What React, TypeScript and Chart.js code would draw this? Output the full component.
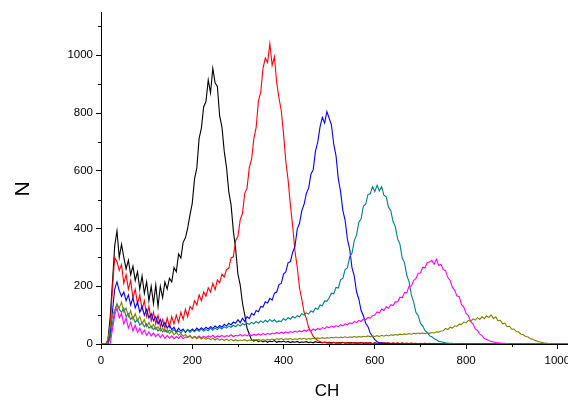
import React, { useEffect, useRef } from "react";
import { Chart, registerables } from "chart.js";

Chart.register(...registerables);

// Channel positions (x categories), every 5 channels from 0 to 1040
const CHANNELS: number[] = Array.from({ length: 209 }, (_, i) => i * 5);

const X_TICK_LABELS = [0, 200, 400, 600, 800, 1000];
const Y_TICK_LABELS = [0, 200, 400, 600, 800, 1000];
const X_TITLE = "CH";
const Y_TITLE = "N";

const BLACK: number[] = [
  0, 0, 0, 12, 90, 210, 340, 392, 300, 345,
  300, 260, 290, 240, 270, 220, 250, 190, 235, 175,
  215, 150, 200, 140, 205, 130, 200, 160, 215, 190,
  228, 215, 265, 250, 312, 298, 352, 368, 402, 447,
  488, 572, 610, 712, 748, 822, 840, 915, 870, 955,
  905, 892, 790, 752, 668, 612, 528, 482, 392, 330,
  242, 205, 142, 100, 55, 34, 14, 10, 14, 8,
  12, 7, 11, 6, 10, 8, 12, 6, 9, 7,
  10, 6, 9, 5, 8, 6, 9, 5, 7, 6,
  8, 5, 7, 4, 8, 5, 6, 4, 7, 5,
  6, 4, 6, 3, 5, 4, 6, 3, 5, 4,
  5, 3, 4, 3, 5, 2, 4, 3, 4, 2,
  4, 2, 3, 2, 4, 2, 3, 1, 3, 2,
  3, 1, 2, 1, 2, 1, 2, 1, 1, 1,
  1, 0, 1, 0, 1, 0, 0, 1, 0, 0,
  0, 0, 0, 0, 0, 0, 0, 0, 0, 0,
  0, 0, 0, 0, 0, 0, 0, 0, 0, 0,
  0, 0, 0, 0, 0, 0, 0, 0, 0, 0,
  0, 0, 0, 0, 0, 0, 0, 0, 0, 0,
  0, 0, 0, 0, 0, 0, 0, 0, 0, 0,
  0, 0, 0, 0, 0, 0, 0, 0, 0,
];

const RED: number[] = [
  0, 0, 0, 0, 55, 190, 300, 285, 255, 275,
  210, 240, 190, 220, 160, 190, 140, 170, 120, 150,
  95, 130, 80, 110, 70, 100, 60, 85, 55, 90,
  60, 95, 70, 100, 75, 110, 85, 120, 95, 130,
  120, 150, 135, 170, 150, 180, 165, 195, 180, 210,
  188, 222, 212, 242, 232, 258, 262, 298, 302, 358,
  372, 430, 452, 522, 540, 612, 640, 712, 750, 842,
  872, 955, 990, 975, 1040, 965, 995, 905, 852, 808,
  728, 632, 568, 482, 408, 322, 266, 194, 155, 110,
  88, 57, 42, 26, 19, 11, 9, 5, 6, 3,
  4, 2, 5, 3, 4, 2, 5, 3, 4, 2,
  3, 5, 2, 4, 3, 5, 2, 4, 3, 2,
  4, 2, 3, 5, 2, 3, 4, 2, 3, 2,
  3, 2, 4, 2, 3, 1, 3, 2, 2, 1,
  2, 1, 3, 1, 2, 1, 2, 1, 1, 1,
  1, 0, 1, 0, 1, 0, 1, 0, 0, 1,
  0, 0, 0, 0, 0, 0, 0, 0, 0, 0,
  0, 0, 0, 0, 0, 0, 0, 0, 0, 0,
  0, 0, 0, 0, 0, 0, 0, 0, 0, 0,
  0, 0, 0, 0, 0, 0, 0, 0, 0, 0,
  0, 0, 0, 0, 0, 0, 0, 0, 0,
];

const BLUE: number[] = [
  0, 0, 0, 0, 30, 110, 190, 215, 185, 165,
  180, 150, 170, 135, 160, 125, 145, 110, 130, 100,
  120, 90, 105, 80, 95, 70, 85, 60, 75, 55,
  65, 50, 58, 42, 55, 45, 52, 40, 50, 44,
  52, 45, 55, 48, 56, 50, 58, 52, 60, 54,
  62, 56, 64, 58, 68, 62, 72, 66, 76, 72,
  84, 74, 89, 78, 95, 88, 106, 100, 116, 112,
  130, 128, 146, 142, 158, 152, 176, 180, 206, 210,
  242, 250, 282, 285, 318, 338, 398, 418, 462, 484,
  522, 540, 588, 604, 668, 700, 752, 785, 765, 805,
  782, 758, 692, 652, 572, 528, 462, 428, 362, 328,
  264, 236, 180, 155, 116, 98, 72, 60, 38, 26,
  15, 8, 4, 3, 2, 2, 1, 1, 1, 0,
  0, 0, 0, 0, 0, 0, 0, 0, 0, 0,
  0, 0, 0, 0, 0, 0, 0, 0, 0, 0,
  0, 0, 0, 0, 0, 0, 0, 0, 0, 0,
  0, 0, 0, 0, 0, 0, 0, 0, 0, 0,
  0, 0, 0, 0, 0, 0, 0, 0, 0, 0,
  0, 0, 0, 0, 0, 0, 0, 0, 0, 0,
  0, 0, 0, 0, 0, 0, 0, 0, 0, 0,
  0, 0, 0, 0, 0, 0, 0, 0, 0,
];

const TEAL: number[] = [
  0, 0, 0, 0, 20, 70, 115, 140, 120, 110,
  125, 95, 105, 85, 95, 75, 85, 65, 75, 60,
  70, 55, 62, 50, 58, 45, 55, 42, 50, 40,
  48, 42, 50, 40, 45, 38, 48, 42, 50, 40,
  48, 42, 50, 44, 52, 45, 50, 46, 55, 48,
  55, 50, 58, 52, 60, 55, 62, 58, 65, 60,
  68, 62, 70, 66, 72, 68, 75, 70, 78, 72,
  80, 74, 82, 76, 85, 78, 84, 76, 80, 78,
  88, 82, 92, 86, 95, 90, 98, 94, 105, 100,
  108, 104, 115, 110, 125, 120, 135, 132, 150, 148,
  160, 176, 174, 196, 194, 222, 228, 258, 264, 302,
  314, 358, 378, 422, 434, 478, 484, 518, 520, 545,
  528, 550, 530, 545, 515, 510, 474, 462, 424, 406,
  364, 346, 298, 282, 238, 216, 170, 146, 110, 98,
  72, 62, 46, 40, 28, 25, 18, 15, 9, 8,
  6, 4, 3, 2, 2, 1, 1, 1, 0, 0,
  0, 0, 0, 0, 0, 0, 0, 0, 0, 0,
  0, 0, 0, 0, 0, 0, 0, 0, 0, 0,
  0, 0, 0, 0, 0, 0, 0, 0, 0, 0,
  0, 0, 0, 0, 0, 0, 0, 0, 0, 0,
  0, 0, 0, 0, 0, 0, 0, 0, 0,
];

const MAGENTA: number[] = [
  0, 0, 0, 0, 0, 50, 100, 125, 90, 105,
  70, 90, 55, 75, 45, 65, 40, 55, 35, 48,
  30, 42, 28, 38, 25, 35, 22, 32, 20, 30,
  20, 28, 18, 26, 20, 28, 18, 25, 22, 28,
  20, 26, 22, 28, 20, 27, 22, 28, 24, 30,
  22, 28, 25, 30, 24, 29, 26, 32, 25, 30,
  28, 33, 27, 32, 28, 34, 29, 33, 30, 35,
  31, 36, 32, 37, 33, 38, 35, 40, 36, 41,
  37, 42, 38, 43, 40, 45, 41, 46, 42, 48,
  44, 50, 45, 52, 47, 54, 50, 57, 53, 60,
  56, 62, 58, 64, 60, 67, 63, 70, 66, 73,
  70, 78, 74, 82, 78, 86, 84, 92, 90, 98,
  100, 111, 108, 121, 116, 129, 124, 136, 133, 146,
  146, 162, 160, 178, 178, 200, 200, 220, 226, 245,
  246, 266, 264, 282, 284, 290, 276, 294, 272, 276,
  258, 254, 230, 220, 196, 186, 166, 164, 136, 128,
  106, 98, 77, 70, 52, 47, 34, 29, 19, 16,
  12, 9, 7, 5, 4, 3, 2, 2, 1, 1,
  0, 0, 0, 0, 0, 0, 0, 0, 0, 0,
  0, 0, 0, 0, 0, 0, 0, 0, 0, 0,
  0, 0, 0, 0, 0, 0, 0, 0, 0,
];

const OLIVE: number[] = [
  0, 0, 0, 15, 60, 100, 115, 135, 125, 145,
  110, 125, 95, 115, 85, 105, 80, 95, 70, 85,
  60, 75, 55, 68, 50, 60, 45, 55, 42, 50,
  36, 45, 32, 40, 30, 36, 27, 33, 24, 30,
  20, 26, 18, 24, 17, 22, 16, 21, 15, 20,
  14, 19, 13, 18, 12, 17, 12, 16, 11, 15,
  11, 14, 12, 15, 11, 14, 12, 15, 13, 16,
  12, 15, 13, 16, 14, 17, 15, 18, 16, 19,
  15, 18, 16, 19, 15, 18, 16, 19, 17, 20,
  16, 19, 17, 20, 18, 21, 19, 22, 19, 22,
  20, 23, 21, 24, 21, 24, 22, 25, 22, 25,
  23, 26, 23, 26, 24, 27, 25, 28, 25, 28,
  26, 29, 26, 30, 27, 31, 28, 32, 30, 33,
  31, 34, 32, 35, 33, 36, 34, 37, 35, 38,
  36, 38, 36, 39, 37, 40, 38, 42, 41, 45,
  46, 54, 50, 58, 55, 63, 61, 69, 68, 76,
  73, 82, 78, 87, 83, 91, 85, 95, 88, 98,
  92, 101, 88, 94, 80, 82, 70, 72, 60, 62,
  51, 52, 43, 42, 34, 33, 26, 25, 19, 17,
  13, 10, 8, 6, 4, 3, 2, 1, 0, 0,
  0, 0, 0, 0, 0, 0, 0, 0, 0,
];

const SERIES = [
  { name: "S1", values: BLACK, color: "#000000", order: 5 },
  { name: "S2", values: RED, color: "#ff0000", order: 4 },
  { name: "S3", values: BLUE, color: "#0000ff", order: 3 },
  { name: "S4", values: TEAL, color: "#008080", order: 2 },
  { name: "S5", values: MAGENTA, color: "#ff00ff", order: 1 },
  { name: "S6", values: OLIVE, color: "#808000", order: 0 },
];

const TICK_FONT = { family: "'Liberation Sans', Arial, sans-serif", size: 11.5 };
const X_TITLE_FONT = "17px 'Liberation Sans', Arial, sans-serif";
const Y_TITLE_FONT = "21px 'Liberation Sans', Arial, sans-serif";

const isMajor = (v: number, labels: number[]) => labels.includes(v);

const axisDecor = {
  id: "axisDecor",
  afterDraw(chart: any) {
    const ctx = chart.ctx as CanvasRenderingContext2D;
    const { left, top, bottom } = chart.chartArea;
    const xs = chart.scales.x;
    const ys = chart.scales.y;
    ctx.save();
    ctx.strokeStyle = "#000";
    ctx.lineWidth = 1;
    ctx.beginPath();
    xs.ticks.forEach((t: any) => {
      if (t.value % 200 === 100) {
        const px = Math.round(xs.getPixelForValue(t.value)) + 0.5;
        ctx.moveTo(px, bottom);
        ctx.lineTo(px, bottom + 3);
      }
    });
    ys.ticks.forEach((t: any) => {
      if (t.value % 200 === 100) {
        const py = Math.round(ys.getPixelForValue(t.value)) + 0.5;
        ctx.moveTo(left - 3, py);
        ctx.lineTo(left, py);
      }
    });
    ctx.stroke();
    ctx.fillStyle = "#000";
    ctx.textAlign = "center";
    ctx.textBaseline = "middle";
    ctx.font = X_TITLE_FONT;
    ctx.fillText(X_TITLE, left + 226, bottom + 47);
    ctx.font = Y_TITLE_FONT;
    ctx.translate(left - 78, (top + bottom) / 2 + 11);
    ctx.rotate(-Math.PI / 2);
    ctx.fillText(Y_TITLE, 0, 0);
    ctx.restore();
  },
};

export default function App() {
  const canvasRef = useRef<HTMLCanvasElement | null>(null);

  useEffect(() => {
    if (!canvasRef.current) return;
    const chart = new Chart(canvasRef.current, {
      type: "line",
      data: {
        datasets: SERIES.map((s) => ({
          label: s.name,
          data: CHANNELS.map((x, i) => ({ x, y: s.values[i] })),
          borderColor: s.color,
          backgroundColor: s.color,
          borderWidth: 1.1,
          pointRadius: 0,
          tension: 0,
          fill: false,
          order: s.order,
        })),
      },
      options: {
        animation: false,
        responsive: false,
        devicePixelRatio: 1,
        layout: { padding: { top: 12, right: 17, left: 0, bottom: 0 } },
        plugins: { legend: { display: false }, tooltip: { enabled: false } },
        scales: {
          x: {
            type: "linear",
            min: 0,
            max: 1100,
            afterFit: (scale: any) => {
              scale.height = 57;
            },
            ticks: {
              stepSize: 100,
              autoSkip: false,
              maxRotation: 0,
              color: "#000",
              font: TICK_FONT,
              padding: 5,
              callback: (v: any) => (isMajor(Number(v), X_TICK_LABELS) ? String(v) : ""),
            },
            grid: {
              drawOnChartArea: false,
              drawTicks: true,
              tickLength: 5,
              tickColor: (c: any) =>
                c.tick && isMajor(c.tick.value, X_TICK_LABELS) ? "#000" : "rgba(0,0,0,0)",
            },
            border: { display: true, color: "#000", width: 1 },
          },
          y: {
            type: "linear",
            min: 0,
            max: 1150,
            afterFit: (scale: any) => {
              scale.width = 101;
            },
            ticks: {
              stepSize: 100,
              autoSkip: false,
              color: "#000",
              font: TICK_FONT,
              padding: 3,
              callback: (v: any) => (isMajor(Number(v), Y_TICK_LABELS) ? String(v) : ""),
            },
            grid: {
              drawOnChartArea: false,
              drawTicks: true,
              tickLength: 5,
              tickColor: (c: any) =>
                c.tick && isMajor(c.tick.value, Y_TICK_LABELS) ? "#000" : "rgba(0,0,0,0)",
            },
            border: { display: true, color: "#000", width: 1 },
          },
        },
      },
      plugins: [axisDecor],
    });
    return () => chart.destroy();
  }, []);

  return (
    <div
      style={{
        position: "fixed",
        left: 0,
        top: 0,
        width: 568,
        height: 401,
        overflow: "hidden",
        background: "#fff",
      }}
    >
      <canvas
        ref={canvasRef}
        width={620}
        height={401}
        style={{ width: 620, height: 401, display: "block" }}
      />
    </div>
  );
}
